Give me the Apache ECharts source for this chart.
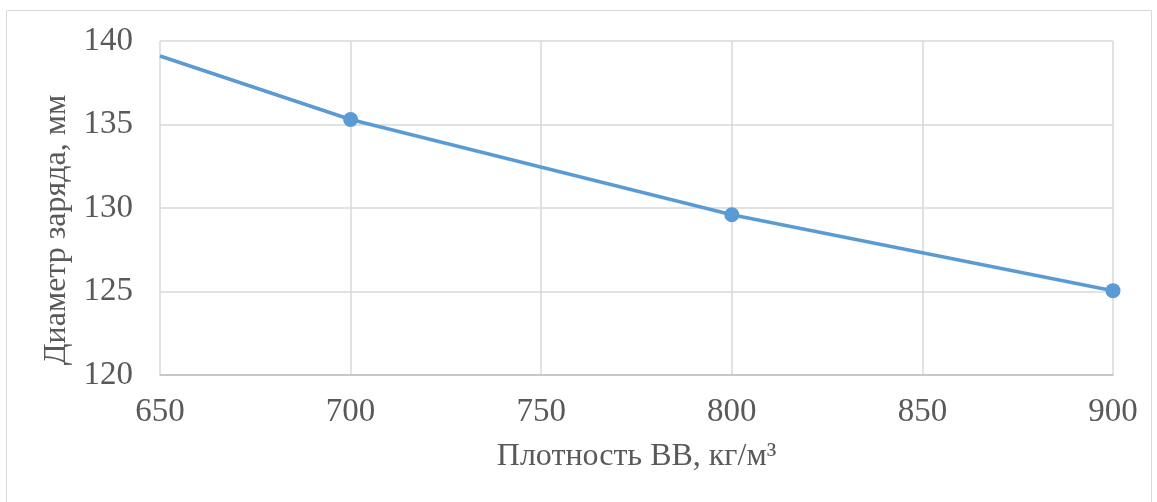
<!DOCTYPE html>
<html><head><meta charset="utf-8">
<script src="https://cdn.jsdelivr.net/npm/echarts@6/dist/echarts.min.js"></script>
<style>html,body{margin:0;padding:0;background:#fff}#c{width:1157px;height:502px}</style>
</head><body><div id="c"></div>
<script>
const density = [650, 700, 800, 900];
const diameter = [139.1, 135.3, 129.6, 125.05];
const showMarker = [false, true, true, true];
const xTitle = 'Плотность ВВ, кг/м³';
const yTitle = 'Диаметр заряда, мм';

const chart = echarts.init(document.getElementById('c'));
const font = '"Liberation Serif", "Times New Roman", serif';
chart.setOption({
  animation: false,
  graphic: [{type:'rect', shape:{x:6.5,y:10.5,width:1145,height:500}, style:{fill:'none',stroke:'#d9d9d9',lineWidth:1}, silent:true}],
  grid: {left:160, right:44, top:41, bottom:127},
  xAxis: {
    type:'value', min:650, max:900, interval:50,
    name: xTitle, nameLocation:'middle', nameGap:66,
    nameTextStyle:{fontFamily:font, fontSize:32, color:'#595959'},
    axisLine:{show:true, lineStyle:{color:'#bfbfbf', width:1.5}},
    axisTick:{show:false},
    axisLabel:{fontFamily:font, fontSize:33, color:'#595959', margin:21},
    splitLine:{show:true, lineStyle:{color:'#d9d9d9', width:1.5}}
  },
  yAxis: {
    type:'value', min:120, max:140, interval:5,
    name: yTitle, nameLocation:'middle', nameGap:86, nameRotate:90,
    nameTextStyle:{fontFamily:font, fontSize:32, color:'#595959', padding:[0,44,0,0]},
    axisLine:{show:false}, axisTick:{show:false},
    axisLabel:{fontFamily:font, fontSize:33, color:'#595959', margin:27},
    splitLine:{show:true, lineStyle:{color:'#d9d9d9', width:1.5}}
  },
  series: [{
    type:'line',
    data: density.map((x,i)=>({value:[x, diameter[i]], symbol: showMarker[i]?'circle':'none'})),
    symbolSize:15,
    lineStyle:{color:'#5b9bd5', width:3.5},
    itemStyle:{color:'#5b9bd5'},
    clip:false
  }]
});
</script></body></html>
